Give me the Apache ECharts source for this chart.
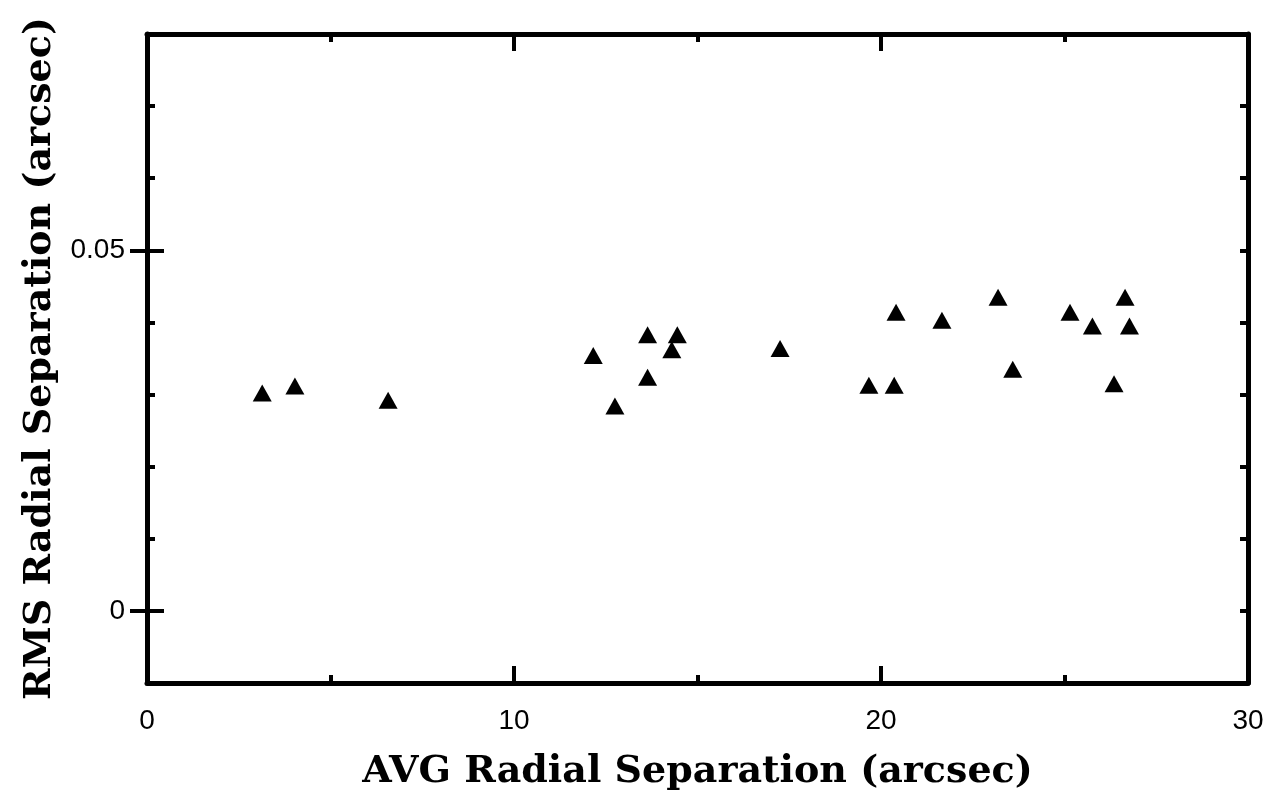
<!DOCTYPE html>
<html><head><meta charset="utf-8">
<script src="https://cdn.jsdelivr.net/npm/echarts@6/dist/echarts.min.js"></script>
<style>html,body{margin:0;padding:0;background:#fff}#c{width:1272px;height:793px}</style>
</head><body><div id="c"></div>
<script>
const avgSep = [3.14, 4.03, 6.57, 12.16, 12.75, 13.64, 13.64, 14.30, 14.45, 17.25, 19.67, 20.36, 20.41, 21.66, 23.19, 23.59, 25.15, 25.76, 26.35, 26.65, 26.77];
const rmsSep = [0.0302, 0.0312, 0.0292, 0.0354, 0.0284, 0.0383, 0.0324, 0.0362, 0.0383, 0.0364, 0.0313, 0.0313, 0.0414, 0.0403, 0.0435, 0.0335, 0.0414, 0.0395, 0.0315, 0.0435, 0.0395];
const xLabelValues = [0, 10, 20, 30];
const yLabelValues = [0, 0.05];
const xTitle = 'AVG Radial Separation (arcsec)';
const yTitle = 'RMS Radial Separation (arcsec)';

const points = avgSep.map((x, i) => [x, rmsSep[i]]);
const lineStyle = { color: '#000', width: 5 };
const labelFont = { fontFamily: "'Liberation Sans', Arial, sans-serif", fontSize: 28, color: '#000' };
const titleFont = { fontFamily: "'DejaVu Serif', serif", fontWeight: 'bold', fontSize: 38, color: '#000' };

const chart = echarts.init(document.getElementById('c'), null, { renderer: 'canvas' });
chart.setOption({
  animation: false,
  backgroundColor: '#fff',
  grid: { left: 147, right: 24, top: 34, bottom: 110, containLabel: false, outerBoundsMode: 'none' },
  xAxis: [
    {
      type: 'value', position: 'bottom', min: 0, max: 30, interval: 10,
      name: xTitle, nameLocation: 'middle', nameGap: 70, nameTextStyle: titleFont,
      axisLine: { show: true, lineStyle: lineStyle, onZero: false },
      axisTick: { show: true, inside: true, length: 17, lineStyle: { color: '#000', width: 4 } },
      minorTick: { show: true, splitNumber: 2, length: 8, lineStyle: { color: '#000', width: 4 } },
      axisLabel: Object.assign({ margin: 24, formatter: v => xLabelValues.includes(v) ? String(v) : '' }, labelFont),
      splitLine: { show: false }
    },
    {
      type: 'value', position: 'top', min: 0, max: 30, interval: 10,
      axisLine: { show: true, lineStyle: lineStyle, onZero: false },
      axisTick: { show: true, inside: true, length: 17, lineStyle: { color: '#000', width: 4 } },
      minorTick: { show: true, splitNumber: 2, length: 8, lineStyle: { color: '#000', width: 4 } },
      axisLabel: { show: false },
      splitLine: { show: false }
    }
  ],
  yAxis: [
    {
      type: 'value', position: 'left', min: -0.01, max: 0.08, interval: 0.01,
      name: yTitle, nameLocation: 'middle', nameGap: 80, nameTextStyle: titleFont,
      axisLine: { show: true, lineStyle: lineStyle, onZero: false },
      axisTick: { show: true, inside: true, length: 8, lineStyle: { color: '#000', width: 4 } },
      axisLabel: Object.assign({ margin: 22, formatter: v => yLabelValues.some(t => Math.abs(t - v) < 1e-9) ? (Math.abs(v) < 1e-9 ? '0' : String(+v.toFixed(2))) : '' }, labelFont),
      splitLine: { show: false }
    },
    {
      type: 'value', position: 'left', offset: 0, min: -0.01, max: 0.08,
      axisLine: { show: false },
      axisTick: { show: true, inside: true, length: 17, customValues: yLabelValues, lineStyle: { color: '#000', width: 4 } },
      axisLabel: { show: false },
      splitLine: { show: false }
    },
    {
      type: 'value', position: 'right', min: -0.01, max: 0.08, interval: 0.01,
      axisLine: { show: true, lineStyle: lineStyle, onZero: false },
      axisTick: { show: true, inside: true, length: 8, lineStyle: { color: '#000', width: 4 } },
      axisLabel: { show: false },
      splitLine: { show: false }
    },
    {
      type: 'value', position: 'right', offset: 0, min: -0.01, max: 0.08,
      axisLine: { show: false },
      axisTick: { show: true, inside: true, length: 17, customValues: yLabelValues, lineStyle: { color: '#000', width: 4 } },
      axisLabel: { show: false },
      splitLine: { show: false }
    }
  ],
  series: [{
    type: 'scatter', xAxisIndex: 0, yAxisIndex: 0,
    symbol: 'triangle', symbolSize: [19, 17],
    itemStyle: { color: '#000', opacity: 1 },
    data: points
  }]
});
</script>
</body></html>
